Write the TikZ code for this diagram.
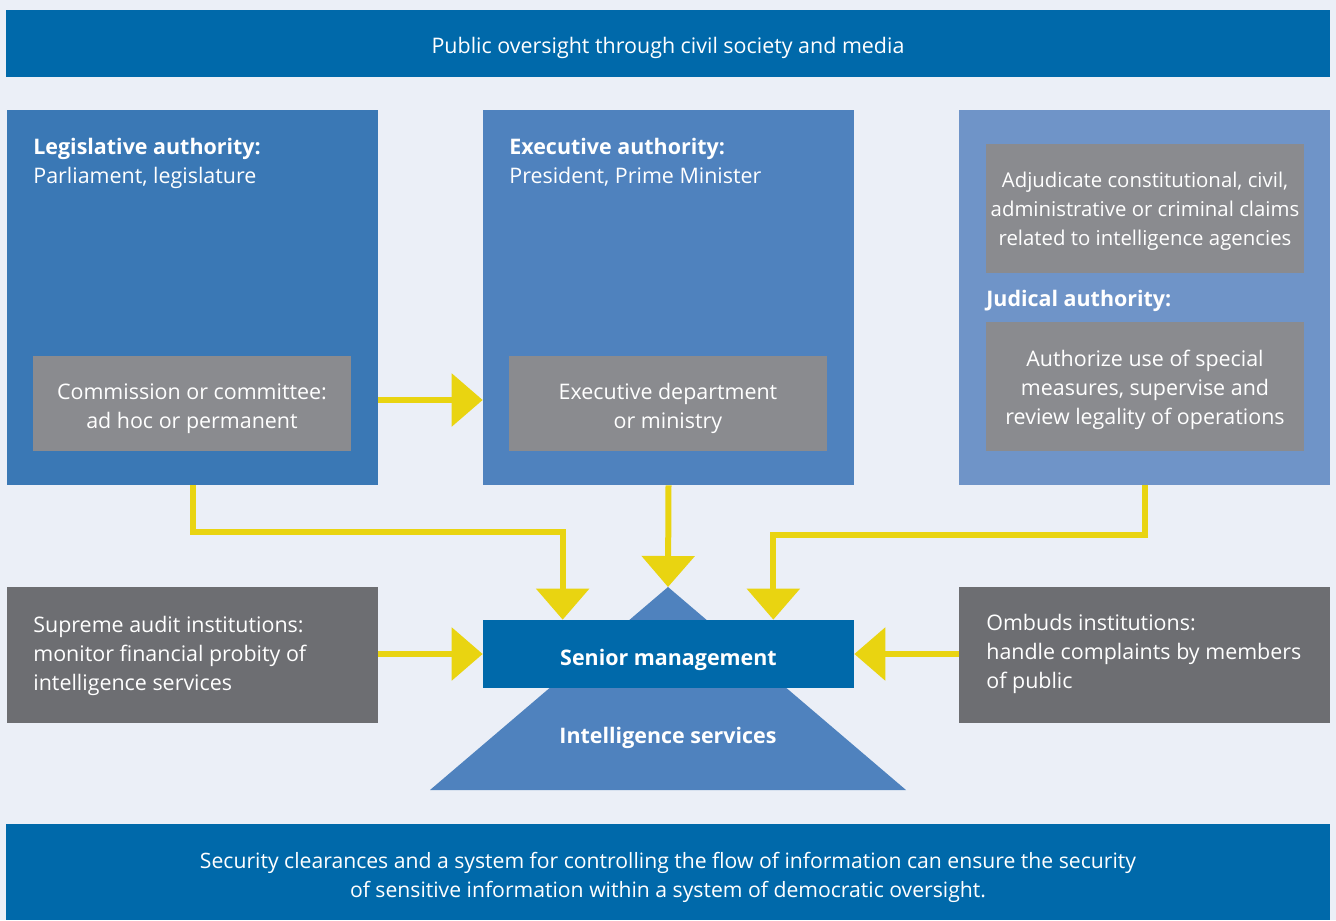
\documentclass[tikz,border=0pt]{standalone}
\usepackage{fontspec}
\setmainfont{Open Sans}
\usetikzlibrary{arrows.meta}
\definecolor{bgblue}{HTML}{EBEFF7}
\definecolor{barblue}{HTML}{0069AA}
\definecolor{legblue}{HTML}{3A78B5}
\definecolor{exeblue}{HTML}{4F82BE}
\definecolor{judblue}{HTML}{6F94C8}
\definecolor{innergray}{HTML}{8A8B8F}
\definecolor{sidegray}{HTML}{6D6E72}
\definecolor{flowyellow}{HTML}{E9D411}
\tikzset{>={Triangle[length=0.62cm,width=1.04cm]}}
\tikzset{
  bar/.style={fill=barblue, minimum width=26.48cm, inner sep=0pt},
  authbox/.style={minimum width=7.42cm, minimum height=7.5cm, inner sep=0pt},
  innerbox/.style={fill=innergray, minimum width=6.36cm, inner sep=0pt},
  sidebox/.style={fill=sidegray, minimum width=7.42cm, minimum height=2.72cm, inner sep=0pt},
  boxtext/.style={text=white, inner sep=0pt, align=center},
  title/.style={text=white, inner sep=0pt, align=left},
  flow/.style={->, draw=flowyellow, line width=0.12cm}
}
\begin{document}
\begin{tikzpicture}[x=0.02cm, y=-0.02cm, font=\fontsize{12.2}{16.5}\selectfont]
  \useasboundingbox[fill=bgblue] (0,0) rectangle (1336,920);
  % bars
  \node[bar, minimum height=1.34cm] (media) at (668,43.5) {};
  \node[boxtext] (mediatext) at ([yshift=-0.08cm]media) {Public oversight through civil society and media};
  \node[bar, minimum height=1.92cm] (clear) at (668,872) {};
  \node[boxtext, font=\fontsize{12.05}{16.5}\selectfont] (cleartext) at ([yshift=-0.11cm]clear) {Security clearances and a system for controlling the flow of information can ensure the security\\ of sensitive information within a system of democratic oversight.};
  % authorities
  \node[authbox, fill=legblue] (leg) at (192.5,297.5) {};
  \node[authbox, fill=exeblue] (exe) at (668.5,297.5) {};
  \node[authbox, fill=judblue] (jud) at (1144.5,297.5) {};
  \node[title, anchor=north west] (legtitle) at (33,138) {\textbf{Legislative authority:}\\ Parliament, legislature};
  \node[title, anchor=north west] (exetitle) at (509,138) {\textbf{Executive authority:}\\ President, Prime Minister};
  \node[innerbox, minimum height=1.9cm] (comm) at (192,403.5) {};
  \node[boxtext] (commtext) at ([yshift=-0.1cm]comm) {Commission or committee:\\ ad hoc or permanent};
  \node[innerbox, minimum height=1.9cm] (dept) at (668,403.5) {};
  \node[boxtext] (depttext) at ([yshift=-0.1cm]dept) {Executive department\\ or ministry};
  \node[innerbox, minimum height=2.58cm] (adjud) at (1145,208.5) {};
  \node[boxtext, font=\fontsize{11.6}{16.5}\selectfont] (adjudtext) at ([yshift=-0.06cm]adjud) {Adjudicate constitutional, civil,\\ administrative or criminal claims\\ related to intelligence agencies};
  \node[title, anchor=west] (judtitle) at (986,301) {\textbf{Judical authority:}};
  \node[innerbox, minimum height=2.58cm] (autho) at (1145,386.5) {};
  \node[boxtext] (authotext) at ([yshift=-0.06cm]autho) {Authorize use of special\\ measures, supervise and\\ review legality of operations};
  % side institutions
  \node[sidebox] (audit) at (192.5,655) {};
  \node[sidebox] (ombuds) at (1144.5,655) {};
  \node[title, anchor=west] (audittext) at (33,655.5) {Supreme audit institutions:\\ monitor financial probity of\\ intelligence services};
  \node[title, anchor=west] (ombudstext) at (986,654) {Ombuds institutions:\\ handle complaints by members\\ of public};
  % intelligence services
  \fill[exeblue] (430,790) -- (668,587) -- (906,790) -- cycle;
  \coordinate (apex) at (668,587);
  \node[boxtext] (intel) at (668,738) {\textbf{Intelligence services}};
  \node[fill=barblue, minimum width=7.42cm, minimum height=1.36cm, inner sep=0pt] (senior) at (668.5,654) {};
  \node[boxtext] (seniortext) at ([yshift=-0.12cm]senior) {\textbf{Senior management}};
  % arrows
  \coordinate (legexit) at ([yshift=0.07cm]comm.east -| leg.east);
  \draw[flow] (legexit) -- (legexit -| exe.west);
  \draw[flow] (leg.south) -- ++(0,47) -| ([xshift=1.6cm]senior.north west);
  \draw[flow] (exe.south) -- (apex);
  \draw[flow] (jud.south) -- ++(0,50) -| ([xshift=-1.62cm]senior.north east);
  \draw[flow] (audit.east |- senior.west) -- (senior.west);
  \draw[flow] (ombuds.west |- senior.east) -- (senior.east);
\end{tikzpicture}
\end{document}
